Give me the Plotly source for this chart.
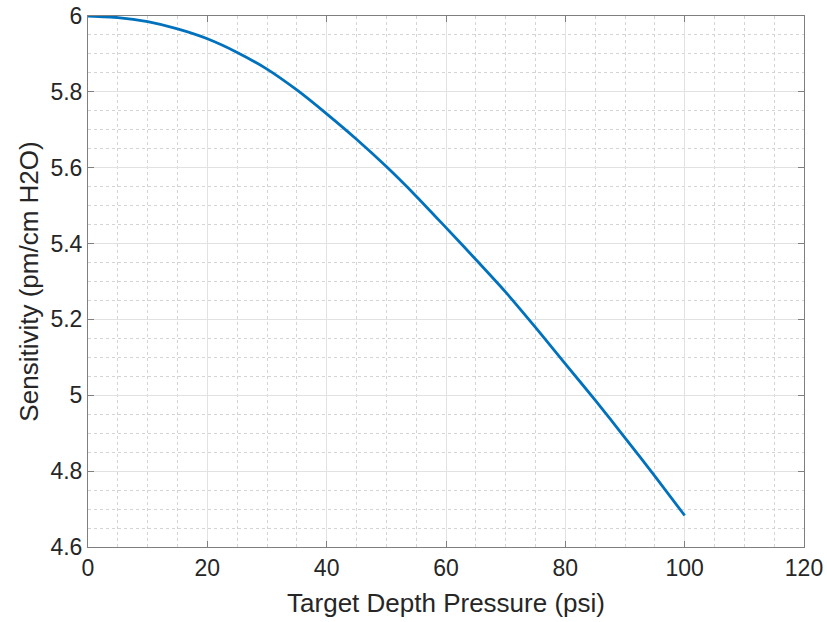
import plotly.graph_objects as go

pressure_psi = [0, 5, 10, 15, 20, 25, 30, 35, 40, 45, 50, 55, 60, 65, 70, 75, 80, 85, 90, 95, 100]
sensitivity = [6.000, 5.996, 5.985, 5.966, 5.940, 5.904, 5.860, 5.805, 5.742, 5.675, 5.603,
               5.525, 5.442, 5.358, 5.272, 5.179, 5.083, 4.987, 4.888, 4.787, 4.683]

x_ticks = [0, 20, 40, 60, 80, 100, 120]
y_ticks = [4.6, 4.8, 5.0, 5.2, 5.4, 5.6, 5.8, 6.0]
y_tick_labels = ["4.6", "4.8", "5", "5.2", "5.4", "5.6", "5.8", "6"]

font_family = "Liberation Sans, Arial, sans-serif"
axis_color = "#262626"

fig = go.Figure()
fig.add_trace(go.Scatter(
    x=pressure_psi, y=sensitivity, mode="lines",
    line=dict(color="#0072BD", width=2.8, shape="spline", smoothing=0.6),
    showlegend=False, hoverinfo="skip",
))

common = dict(
    showline=True, linecolor="#7f7f7f", linewidth=1, mirror="ticks",
    ticks="inside", ticklen=6, tickcolor="#7f7f7f",
    showgrid=True, gridcolor="#e2e2e2", gridwidth=1,
    zeroline=False,
    tickfont=dict(family=font_family, size=23, color=axis_color),
)

fig.update_xaxes(
    range=[0, 120], tickvals=x_ticks, ticktext=[str(v) for v in x_ticks],
    minor=dict(dtick=5, showgrid=True, gridcolor="#d4d4d4", griddash="dot", gridwidth=1, ticks=""),
    title=dict(text="Target Depth Pressure (psi)", font=dict(family=font_family, size=26, color=axis_color), standoff=14),
    **common,
)
fig.update_yaxes(
    range=[4.6, 6.0], tickvals=y_ticks, ticktext=y_tick_labels,
    minor=dict(dtick=0.05, tick0=4.6, showgrid=True, gridcolor="#d4d4d4", griddash="dot", gridwidth=1, ticks=""),
    title=dict(text="Sensitivity (pm/cm H2O)", font=dict(family=font_family, size=26, color=axis_color), standoff=4),
    **common,
)

fig.update_layout(
    width=827, height=622,
    margin=dict(l=88, r=23, t=16, b=75, autoexpand=False),
    paper_bgcolor="white", plot_bgcolor="white",
)

fig.write_html(
    "out.html",
    config={"displayModeBar": False},
    post_script="document.body.style.margin='0';document.body.style.overflow='hidden';",
)
